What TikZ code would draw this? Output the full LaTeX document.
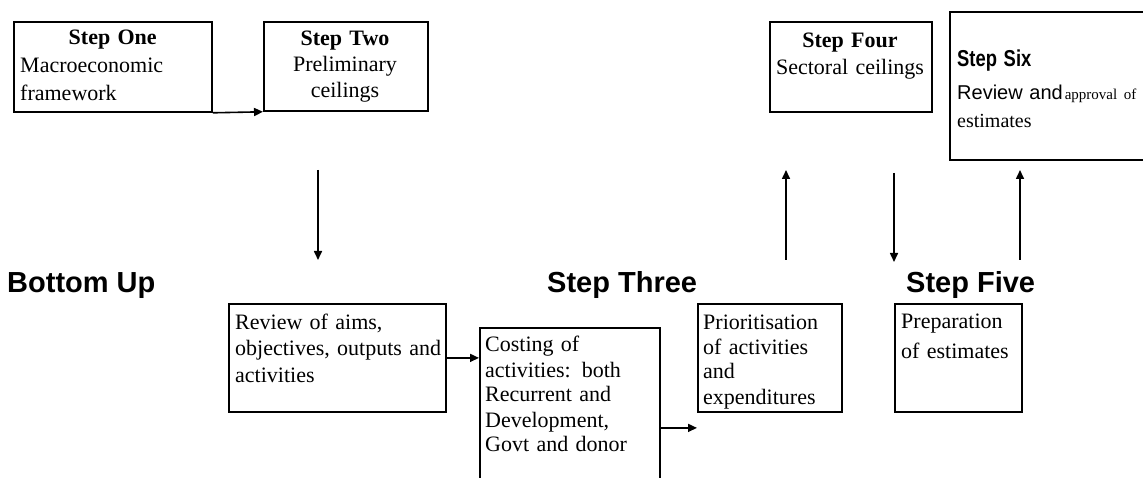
\documentclass[tikz,border=0pt]{standalone}
\usepackage{fontspec}
\setmainfont{Liberation Serif}
\newfontfamily\headfont{Liberation Sans}
\newfontfamily\narrowfont[FakeStretch=0.8]{Liberation Sans}
\usetikzlibrary{positioning,arrows.meta}

\begin{document}
\begin{tikzpicture}[x=1pt,y=-1pt,
    stepbox/.style={draw,rectangle,line width=1.8pt,inner sep=0pt,anchor=north west},
    boxtext/.style={anchor=base west,inner sep=0pt,align=left,font=\fontsize{22}{27}\selectfont},
    heading/.style={anchor=base west,inner sep=0pt,font=\headfont\bfseries\fontsize{29}{34}\selectfont},
    flow/.style={line width=1.6pt,-{Triangle[length=9pt,width=8pt]}}]
    \useasboundingbox (0,0) rectangle (1143,478);
    \clip (0,0) rectangle (1143,478);

    \node[stepbox,minimum width=198pt,minimum height=90pt] (one) at (13,21) {};
    \node[boxtext,text width=185pt,font=\fontsize{22}{28}\selectfont] (one-t) at (20,45)
        {\makebox[185pt]{\textbf{Step One}}\\ Macroeconomic\\ framework};

    \node[stepbox,minimum width=164pt,minimum height=89pt] (two) at (263,21) {};
    \node[boxtext,anchor=base,align=center,text width=150pt,font=\fontsize{22}{26}\selectfont] (two-t) at (345,46)
        {\textbf{Step Two}\\ Preliminary\\ ceilings};

    \node[stepbox,minimum width=162pt,minimum height=90pt] (four) at (769,21) {};
    \node[boxtext,anchor=base,align=center,text width=155pt] (four-t) at (850,48)
        {\textbf{Step Four}\\ Sectoral ceilings};

    \node[stepbox,minimum width=230pt,minimum height=148pt] (six) at (949,11) {};
    \node[boxtext,text width=185pt,font=\fontsize{20}{28}\selectfont] (six-t) at (957,67)
        {{\narrowfont\bfseries\fontsize{23}{28}\selectfont Step Six}\\[5pt]
         {\headfont\fontsize{20}{25}\selectfont Review and}\hspace{2pt}{\fontsize{15}{20}\selectfont approval of}\\
         {\fontsize{20}{25}\selectfont estimates}};

    \node[heading] (bottomup) at (7,293) {Bottom Up};
    \node[heading] (stepthree) at (547,293) {Step Three};
    \node[heading] (stepfive) at (906,293) {Step Five};

    \node[stepbox,minimum width=217pt,minimum height=108pt] (review) at (228,303) {};
    \node[boxtext,text width=210pt,font=\fontsize{22}{26}\selectfont] (review-t) at (235,330)
        {Review of aims,\\ objectives, outputs and\\ activities};

    \node[stepbox,minimum width=180pt,minimum height=200pt] (cost) at (479,327) {};
    \node[boxtext,text width=170pt,font=\fontsize{22}{25}\selectfont] (cost-t) at (485,352)
        {Costing of\\ activities: both\\ Recurrent and\\ Development,\\ Govt and donor};

    \node[stepbox,minimum width=144pt,minimum height=108pt] (prio) at (697,303) {};
    \node[boxtext,text width=135pt,font=\fontsize{22}{25}\selectfont] (prio-t) at (703,329)
        {Prioritisation\\ of activities\\ and\\ expenditures};

    \node[stepbox,minimum width=127pt,minimum height=108pt] (prep) at (894,303) {};
    \node[boxtext,text width=118pt,font=\fontsize{22}{30}\selectfont] (prep-t) at (901,328)
        {Preparation\\ of estimates};

    \coordinate (down1) at (318,170);
    \coordinate (down1e) at (318,260);
    \coordinate (up1) at (786,260);
    \coordinate (up1e) at (786,170);
    \coordinate (down2) at (894,173);
    \coordinate (down2e) at (894,262);
    \coordinate (up2) at (1020,260);
    \coordinate (up2e) at (1020,170);

    \draw[flow] (one.south east) -- (two.south west);
    \draw[flow] (down1) -- (down1e);
    \draw[flow] (review.east) -- (review.east -| cost.west);
    \draw[flow] (cost.east) -- (cost.east -| prio.west);
    \draw[flow] (up1) -- (up1e);
    \draw[flow] (down2) -- (down2e);
    \draw[flow] (up2) -- (up2e);
\end{tikzpicture}
\end{document}
